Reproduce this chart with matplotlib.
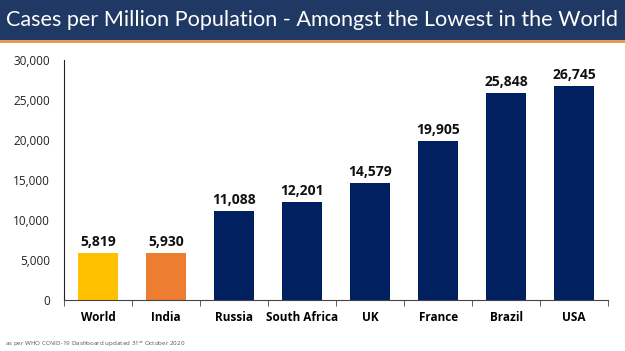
import matplotlib.pyplot as plt
from matplotlib.patches import Rectangle
from matplotlib.ticker import FuncFormatter

countries = ["World", "India", "Russia", "South Africa", "UK", "France", "Brazil", "USA"]
cases = [5819, 5930, 11088, 12201, 14579, 19905, 25848, 26745]
bar_colors = ["#FFC000", "#ED7D31"] + ["#002060"] * 6

plt.rcParams['font.family'] = ['Open Sans', 'DejaVu Sans']

fig = plt.figure(figsize=(6.25, 3.51), dpi=100)

# title banner
fig.patches.append(Rectangle((0, 0.886), 1, 0.114, transform=fig.transFigure,
                             facecolor="#1F3864", edgecolor="none", zorder=0))
fig.patches.append(Rectangle((0, 0.878), 1, 0.008, transform=fig.transFigure,
                             facecolor="#E89A5A", edgecolor="none", zorder=0))
fig.text(0.009, 0.943, "Cases per Million Population - Amongst the Lowest in the World",
         color="white", fontsize=15.6, va="center", ha="left", family=["Lato", "DejaVu Sans"])

ax = fig.add_axes([0.1024, 0.1453, 0.8706, 0.6837])
x = range(len(countries))
bars = ax.bar(x, cases, width=0.59, color=bar_colors)
for b, v in zip(bars, cases):
    ax.text(b.get_x() + b.get_width() / 2, v + 500, f"{v:,}", ha="center", va="bottom",
            fontsize=10, fontweight="bold", color="#111111")

ax.set_xlim(-0.5, len(countries) - 0.5)
ax.set_ylim(0, 30000)
ax.set_yticks(range(0, 30001, 5000))
ax.yaxis.set_major_formatter(FuncFormatter(lambda v, p: f"{int(v):,}"))
ax.tick_params(axis="y", length=0, labelsize=8.5, pad=10, labelcolor="#222222")
ax.set_xticks(list(x))
ax.set_xticklabels(countries, fontweight="bold", fontsize=8.5)
ax.tick_params(axis="x", length=0, pad=8)
ax.set_xticks([i + 0.5 for i in range(-1, len(countries))], minor=True)
ax.tick_params(axis="x", which="minor", length=4, direction="out", color="#444444")
for s in ["top", "right"]:
    ax.spines[s].set_visible(False)
ax.spines["left"].set_color("#222222")
ax.spines["bottom"].set_color("#444444")

fig.text(0.008, 0.02, "as per WHO COVID-19 Dashboard updated 31$^{st}$ October 2020",
         fontsize=4.5, color="#555555", ha="left", va="center")

fig.savefig("out.png", dpi=100)
